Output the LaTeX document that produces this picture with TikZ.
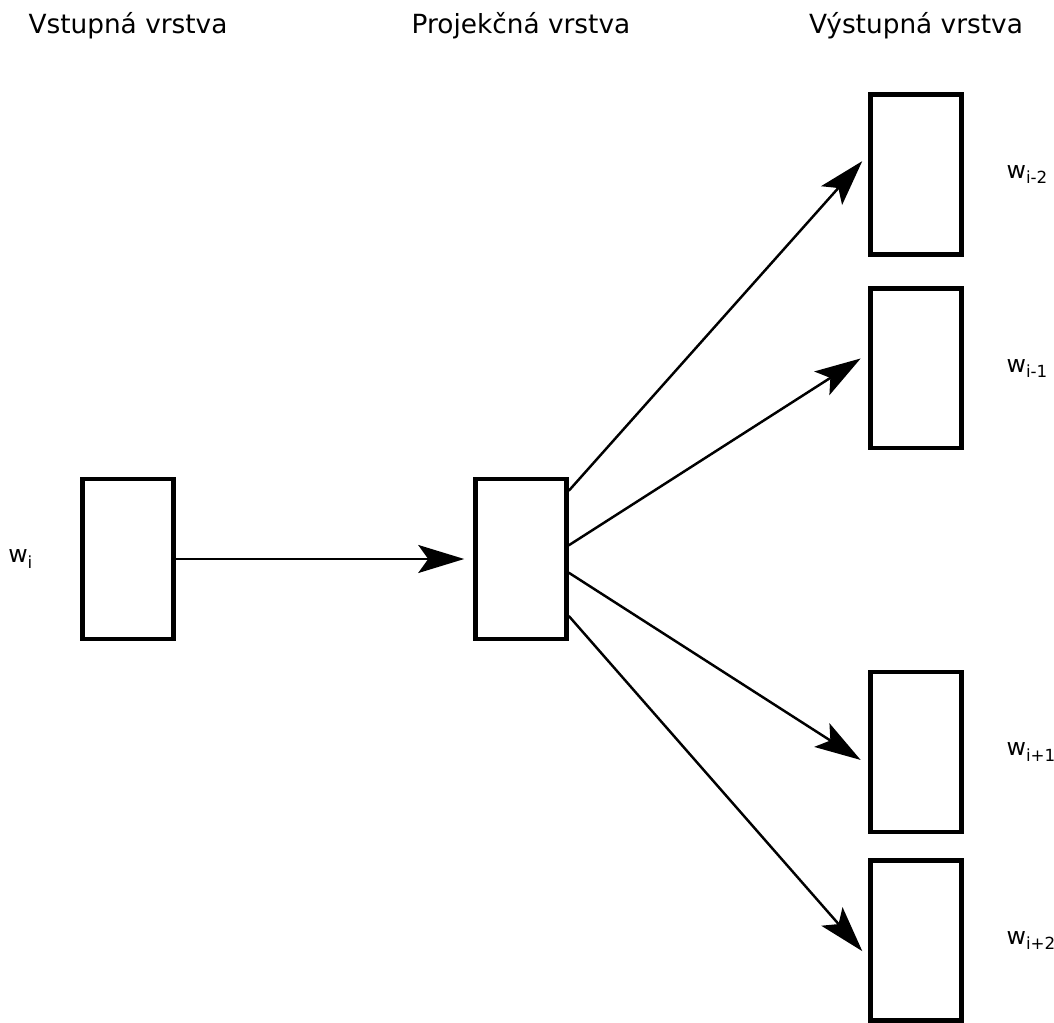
\documentclass[tikz,border=0pt]{standalone}
\usepackage{fontspec}
\setmainfont{DejaVu Sans}
\usetikzlibrary{positioning}
\usetikzlibrary{arrows.meta}

\newcommand{\wordsub}[1]{w\raisebox{-3pt}{\fontsize{9.5}{11}\selectfont #1}}

\begin{document}
\begin{tikzpicture}[
            x=0.02cm, y=-0.02cm,
            squarednode/.style={rectangle, draw=black, line width=2.6pt, minimum width=1.82cm, minimum height=3.2cm, inner sep=0pt},
            layertitle/.style={anchor=base, font=\fontsize{15}{18}\selectfont},
            wordlabel/.style={inner sep=0pt, font=\fontsize{13.5}{16}\selectfont},
            link/.style={-{Stealth[length=0.92cm, width=0.56cm, inset=0.2cm]}, line width=1.4pt, shorten >=0.18cm},
            ]
            \useasboundingbox (0,0) rectangle (1054,1023);

            \node[squarednode] (inp) at (128,559) {};
            \node[squarednode, right=5.95cm of inp] (proj) {};
            \node[squarednode] (o1) at (916,174.7) {};
            \node[squarednode, below=0.58cm of o1] (o2) {};
            \node[squarednode] (o3) at (916,752) {};
            \node[squarednode, below=0.48cm of o3] (o4) {};

            \coordinate (top) at (0,34);
            \node[layertitle] (tin) at (inp |- top) {Vstupná vrstva};
            \node[layertitle] (tproj) at (proj |- top) {Projekčná vrstva};
            \node[layertitle] (tout) at (o1 |- top) {Výstupná vrstva};

            \node[wordlabel, left=0.95cm of inp] (wi) {\wordsub{i}};
            \node[wordlabel, right=0.85cm of o1] (w1) {\wordsub{i-2}};
            \node[wordlabel, right=0.85cm of o2] (w2) {\wordsub{i-1}};
            \node[wordlabel, right=0.85cm of o3] (w3) {\wordsub{i+1}};
            \node[wordlabel, right=0.85cm of o4] (w4) {\wordsub{i+2}};

            \draw[link] (inp.east) -- (proj.west);
            \draw[link] (proj.55) -- (o1.157);
            \draw[link] (proj.16) -- (o2.163);
            \draw[link] (proj.-16) -- (o3.195);
            \draw[link] (proj.-50) -- (o4.200);
        \end{tikzpicture}
\end{document}
